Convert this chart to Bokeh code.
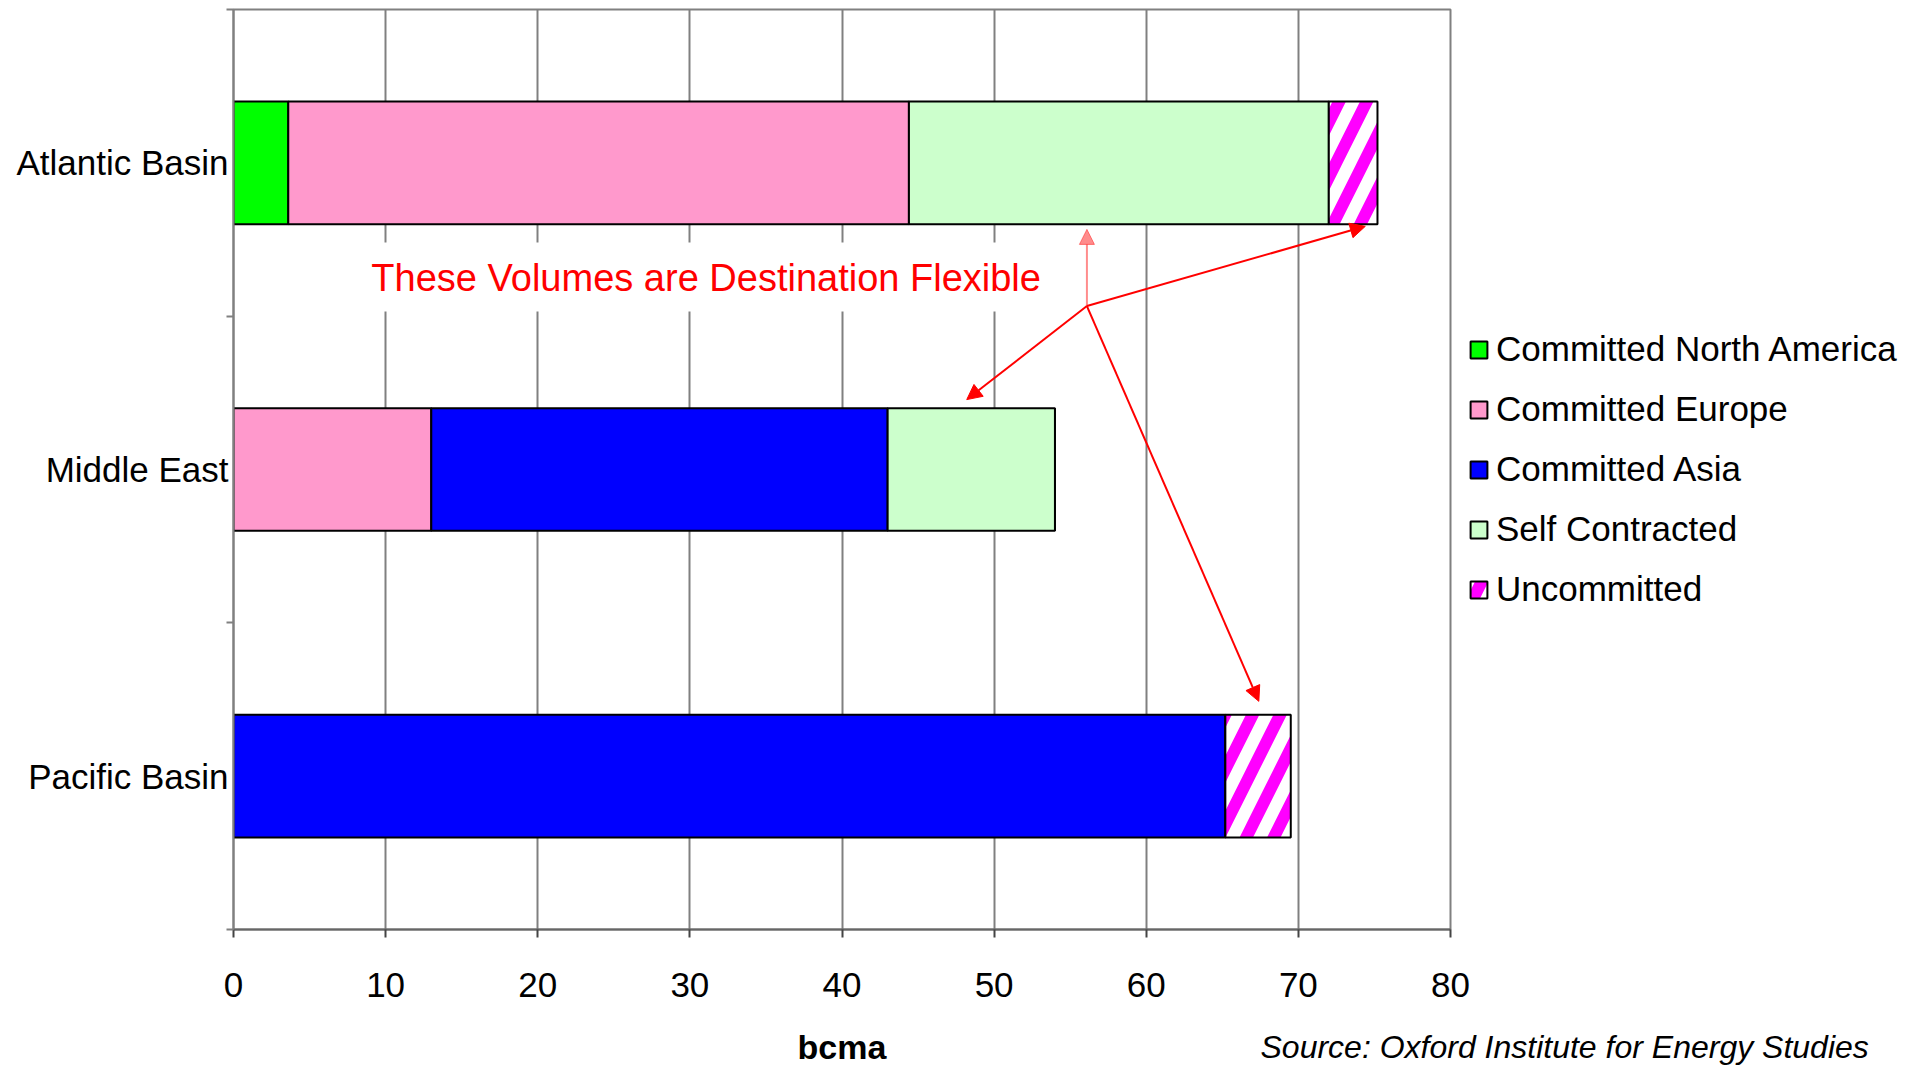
import numpy as np
from bokeh.plotting import figure
from bokeh.models import (FixedTicker, Legend, LegendItem, Arrow, NormalHead,
                          Label, BoxAnnotation, Range1d, Title)
from bokeh.embed import file_html
from bokeh.resources import INLINE

# ---------------- data ----------------
categories = ["Atlantic Basin", "Middle East", "Pacific Basin"]
series_names = ["Committed North America", "Committed Europe", "Committed Asia",
                "Self Contracted", "Uncommitted"]
north_america = [3.6, 0.0, 0.0]
europe = [40.8, 13.0, 0.0]
asia = [0.0, 30.0, 65.2]
self_contracted = [27.6, 11.0, 0.0]
uncommitted = [3.2, 0.0, 4.3]
x_ticks = [0, 10, 20, 30, 40, 50, 60, 70, 80]

series_colors = ["#00FF00", "#FF99CC", "#0000FF", "#CCFFCC", "#FFFFFF"]

# annotation: arrow origin and targets (data units)
arrow_origin = (56.1, 2.033)
arrow_targets_x = [56.1, 74.4, 48.2, 67.4]
arrow_targets_y = [2.283, 2.293, 1.728, 0.744]
note_text = "These Volumes are Destination Flexible"
x_title = "bcma"
source_text = "Source: Oxford Institute for Energy Studies"

FONT = "Liberation Sans"

p = figure(frame_width=1217, frame_height=920,
           min_border_left=233, min_border_top=9, min_border_bottom=137,
           min_border_right=20,
           x_range=Range1d(0, 80), y_range=Range1d(0, len(categories)),
           output_backend="svg", toolbar_location=None)
p.background_fill_color = "white"
p.border_fill_color = "white"
p.outline_line_color = "#808080"
p.outline_line_width = 2

ypos = [len(categories) - i - 0.5 for i in range(len(categories))]
stack = np.array([north_america, europe, asia, self_contracted, uncommitted])
rights = np.cumsum(stack, axis=0)
lefts = rights - stack

renderers = []
for k, name in enumerate(series_names):
    kw = dict(y=ypos, left=list(lefts[k]), right=list(rights[k]), height=0.4,
              fill_color=series_colors[k], line_color="black", line_width=2)
    if name == "Uncommitted":
        kw.update(hatch_pattern="/", hatch_color="#FF00FF", hatch_weight=12,
                  hatch_scale=55)
    r = p.hbar(**kw)
    renderers.append(r)

# axes
p.xaxis.ticker = FixedTicker(ticks=x_ticks)
p.xaxis.major_label_text_font = FONT
p.xaxis.major_label_text_font_size = "35px"
p.xaxis.major_label_text_color = "black"
p.xaxis.axis_line_color = "#666666"
p.xaxis.axis_line_width = 2
p.xaxis.major_tick_line_color = "#444444"
p.xaxis.major_tick_line_width = 2
p.xaxis.major_tick_out = 8
p.xaxis.major_tick_in = 0
p.xaxis.minor_tick_line_color = None
p.xaxis.major_label_standoff = 35
# a blank, tiny axis label only reserves space below the tick labels
p.xaxis.axis_label = " "
p.xaxis.axis_label_text_font_size = "2px"
p.xaxis.axis_label_standoff = 41

p.yaxis.ticker = FixedTicker(ticks=ypos, minor_ticks=list(range(len(categories) + 1)))
p.yaxis.major_label_overrides = {y: c for y, c in zip(ypos, categories)}
p.yaxis.major_label_text_font = FONT
p.yaxis.major_label_text_font_size = "35px"
p.yaxis.major_label_text_color = "black"
p.yaxis.axis_line_color = "#808080"
p.yaxis.axis_line_width = 2
p.yaxis.major_tick_line_color = None
p.yaxis.major_tick_out = 0
p.yaxis.major_tick_in = 0
p.yaxis.minor_tick_line_color = "#808080"
p.yaxis.minor_tick_line_width = 2
p.yaxis.minor_tick_out = 7
p.yaxis.minor_tick_in = 0
p.yaxis.major_label_standoff = -2

p.ygrid.grid_line_color = None
p.xgrid.grid_line_color = "#808080"
p.xgrid.grid_line_width = 2

# white box behind the note
p.add_layout(BoxAnnotation(left=8, right=53.7, bottom=2.015, top=2.24,
                           fill_color="white", fill_alpha=1.0, line_color=None))

# arrows
for i, (tx, ty) in enumerate(zip(arrow_targets_x, arrow_targets_y)):
    alpha = 0.45 if i == 0 else 1.0
    p.add_layout(Arrow(end=NormalHead(size=15, fill_color="red", line_color="red",
                                      fill_alpha=alpha, line_alpha=alpha),
                       x_start=arrow_origin[0], y_start=arrow_origin[1],
                       x_end=tx, y_end=ty, line_color="red", line_width=2,
                       line_alpha=alpha))

p.add_layout(Label(x=31.07, y=2.125, text=note_text, text_align="center",
                   text_baseline="middle", text_color="red",
                   text_font=FONT, text_font_size="38px"))

legend = Legend(items=[LegendItem(label=n, renderers=[r]) for n, r in zip(series_names, renderers)],
                location="center_left")
legend.border_line_color = None
legend.background_fill_alpha = 0
legend.margin = 18
legend.padding = 10
legend.glyph_width = 21
legend.glyph_height = 21
legend.label_standoff = 7
legend.label_height = 50
legend.spacing = 10
legend.label_text_font = FONT
legend.label_text_font_size = "35px"
legend.label_text_color = "black"
p.add_layout(legend, "right")

# axis title and source note: two zero-height title panels on the same line
t_axis = Title(text=x_title, align="center", offset=10, vertical_align="bottom",
               text_font=FONT, text_font_style="bold", text_font_size="34px",
               text_color="black", standoff=-41)
p.add_layout(t_axis, "below")
src = Title(text=source_text, align="left", offset=1027, vertical_align="bottom",
            text_font=FONT, text_font_style="italic", text_font_size="32px",
            text_color="black", standoff=-39)
p.add_layout(src, "below")

open("out.html", "w").write(file_html(p, INLINE))
